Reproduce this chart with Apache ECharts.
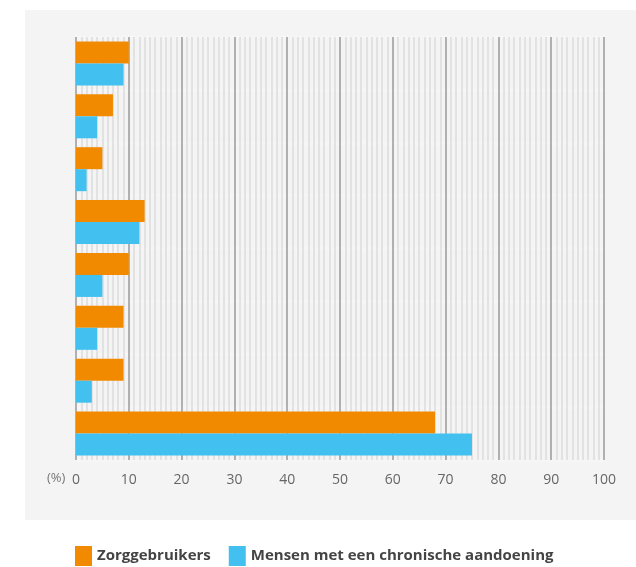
<!DOCTYPE html>
<html>
<head>
<meta charset="utf-8">
<script src="https://cdn.jsdelivr.net/npm/echarts@6/dist/echarts.min.js"></script>
<style>html,body{margin:0;padding:0;background:#fff}#c{width:636px;height:567px}</style>
</head>
<body>
<div id="c"></div>
<script>
var categories = ['Categorie 1','Categorie 2','Categorie 3','Categorie 4','Categorie 5','Categorie 6','Categorie 7','Categorie 8'];
var zorggebruikers = [10, 7, 5, 13, 10, 9, 9, 68];
var chronisch = [9, 4, 2, 12, 5, 4, 3, 75];
var seriesNames = ['Zorggebruikers', 'Mensen met een chronische aandoening'];
var xTicks = {min: 0, max: 100, interval: 10};

var chart = echarts.init(document.getElementById('c'), null, {renderer: 'canvas'});
chart.setOption({
  backgroundColor: '#ffffff',
  animation: false,
  textStyle: {fontFamily: 'Open Sans'},
  graphic: [
    {type: 'rect', z: -100, silent: true, shape: {x: 25, y: 10, width: 611, height: 510}, style: {fill: '#f4f4f4'}},
    {type: 'text', z: 10, left: 47, top: 472, style: {text: '(%)', fill: '#777', fontSize: 13, fontFamily: 'Open Sans'}}
  ],
  grid: {left: 76, right: 32, top: 37, bottom: 107, containLabel: false},
  legend: {
    data: seriesNames,
    top: 546, left: 75, padding: 0,
    icon: 'rect', itemWidth: 17, itemHeight: 20, itemGap: 18,
    textStyle: {fontSize: 15, fontWeight: 'bold', color: '#444', fontFamily: 'Open Sans'}
  },
  xAxis: {
    type: 'value', min: xTicks.min, max: xTicks.max, interval: xTicks.interval,
    axisLine: {show: false}, axisTick: {show: false},
    axisLabel: {color: '#666', fontSize: 14, margin: 13},
    splitLine: {show: true, lineStyle: {color: '#9a9a9a', width: 1.5}},
    minorTick: {show: false, splitNumber: 10},
    minorSplitLine: {show: true, lineStyle: {color: '#dedede', width: 1.6}}
  },
  yAxis: {
    type: 'category', data: categories, inverse: true,
    axisLine: {show: false}, axisTick: {show: false}, axisLabel: {show: false},
    splitLine: {show: true, lineStyle: {color: '#f6f6f6', width: 3}}
  },
  series: [
    {name: seriesNames[0], type: 'bar', data: zorggebruikers, barWidth: 22, barGap: '0%', itemStyle: {color: '#F28A00'}, z: 3},
    {name: seriesNames[1], type: 'bar', data: chronisch, barWidth: 22, barGap: '0%', itemStyle: {color: '#42C1F0'}, z: 3}
  ]
});
</script>
</body>
</html>
